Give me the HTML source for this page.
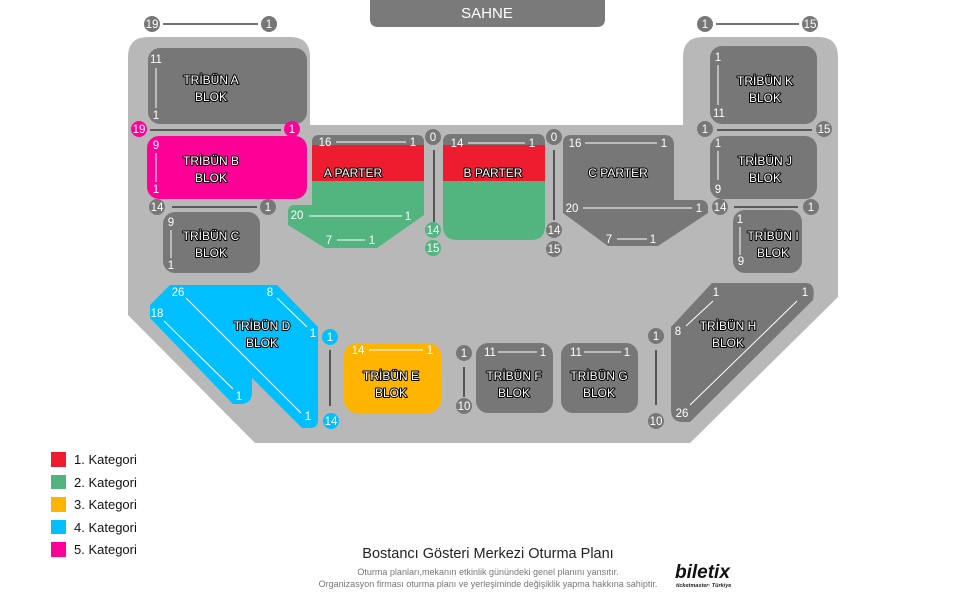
<!DOCTYPE html>
<html><head><meta charset="utf-8"><style>
html,body{margin:0;padding:0;background:#fff;}
svg{display:block;font-family:"Liberation Sans","DejaVu Sans",sans-serif;}
.lb{font-size:12px;fill:#fff;stroke:#000;stroke-width:2px;paint-order:stroke;stroke-linejoin:round;text-anchor:middle;}
.n{font-size:11.5px;fill:#fff;text-anchor:middle;}
.bd{fill:#777;}
.dl{stroke:#222;stroke-width:1.3;}
.wl{stroke:#fff;stroke-width:1;}
</style></head><body>
<svg width="975" height="600" viewBox="0 0 975 600">
<path d="M148,37 H290 Q310,37 310,57 V125 H683 V57 Q683,37 703,37 H818 Q838,37 838,57 V297 L690,443 H255 L128,315 V57 Q128,37 148,37 Z" fill="#b8b8b8"/>
<path d="M370,0 H605 V19 Q605,27 597,27 H378 Q370,27 370,19 Z" fill="#7a7a7a"/>
<text x="487" y="18" font-size="15" fill="#fff" text-anchor="middle">SAHNE</text>

<rect x="148" y="48" width="159" height="76" rx="12" fill="#777"/>
<rect x="147" y="136" width="160" height="63" rx="12" fill="#ff0096"/>
<rect x="163" y="212" width="97" height="61" rx="12" fill="#777"/>
<rect x="710" y="46" width="107" height="78" rx="12" fill="#777"/>
<rect x="710" y="136" width="107" height="63" rx="12" fill="#777"/>
<rect x="733" y="210" width="69" height="63" rx="12" fill="#777"/>
<rect x="344" y="343" width="97" height="70" rx="13" fill="#ffb400"/>
<rect x="476" y="343" width="77" height="70" rx="12" fill="#777"/>
<rect x="561" y="343" width="77" height="70" rx="12" fill="#777"/>

<path d="M312,145 V142 Q312,135 319,135 H417 Q424,135 424,142 V145 Z" fill="#777"/>
<rect x="312" y="145" width="112" height="36" fill="#ed1c2e"/>
<path d="M312,181 H424 V215 L377,248 H325 L288,225 V212 Q288,205 295,205 H312 Z" fill="#52b47e"/>
<path d="M443,145 V142 Q443,134 451,134 H537 Q545,134 545,142 V145 Z" fill="#777"/>
<rect x="443" y="145" width="102" height="36" fill="#ed1c2e"/>
<path d="M443,181 H545 V226 Q545,240 531,240 H457 Q443,240 443,226 Z" fill="#52b47e"/>
<path d="M571,135 H664 Q674,135 674,145 V200 H700 Q708,200 708,208 V213 L658,246 H608 L563,213 V143 Q563,135 571,135 Z" fill="#777"/>
<path d="M712,283 H806 Q816,283 813,300 L690,422 H683 Q671,422 671,410 V327 Z" fill="#777"/>
<path d="M170,285 H277 L318,327 V420 Q318,428 310,428 H302 L252,378 V392 Q252,404 240,404 H233 L150,318 V305 Z" fill="#00bfff"/>

<g>
<line class="dl" x1="163" y1="24" x2="258" y2="24"/>
<circle cx="152" cy="24" r="8" class="bd"/><text class="n" x="152" y="28">19</text>
<circle cx="269" cy="24" r="8" class="bd"/><text class="n" x="269" y="28">1</text>

<line class="dl" x1="150" y1="130" x2="281" y2="130"/>
<circle cx="139" cy="129" r="8" fill="#ff0096"/><text class="n" x="139" y="133">19</text>
<circle cx="292" cy="129" r="8" fill="#ff0096"/><text class="n" x="292" y="133">1</text>

<line class="dl" x1="172" y1="207" x2="257" y2="207"/>
<circle cx="157" cy="207" r="8" class="bd"/><text class="n" x="157" y="211">14</text>
<circle cx="268" cy="207" r="8" class="bd"/><text class="n" x="268" y="211">1</text>

<text class="n" x="156" y="63">11</text><line class="wl" x1="156" y1="68" x2="156" y2="108"/><text class="n" x="156" y="119">1</text>
<text class="n" x="156" y="149">9</text><line class="wl" x1="156" y1="153" x2="156" y2="182"/><text class="n" x="156" y="193">1</text>
<text class="n" x="171" y="226">9</text><line class="wl" x1="171" y1="230" x2="171" y2="258"/><text class="n" x="171" y="269">1</text>

<text class="n" x="325" y="146">16</text><line class="wl" x1="336" y1="142" x2="406" y2="142"/><text class="n" x="413" y="146">1</text>
<text class="n" x="297" y="219">20</text><line class="wl" x1="309" y1="216" x2="402" y2="216"/><text class="n" x="408" y="220">1</text>
<text class="n" x="329" y="244">7</text><line class="wl" x1="337" y1="240" x2="365" y2="240"/><text class="n" x="372" y="244">1</text>

<line class="dl" x1="434" y1="150" x2="434" y2="222"/>
<circle cx="433" cy="137" r="8" class="bd"/><text class="n" x="433" y="141">0</text>
<circle cx="433" cy="230" r="8" fill="#52b47e"/><text class="n" x="433" y="234">14</text>
<circle cx="433" cy="248" r="8" fill="#52b47e"/><text class="n" x="433" y="252">15</text>

<text class="n" x="457" y="147">14</text><line class="wl" x1="468" y1="143" x2="525" y2="143"/><text class="n" x="532" y="147">1</text>

<line class="dl" x1="554" y1="150" x2="554" y2="220"/>
<circle cx="554" cy="137" r="8" class="bd"/><text class="n" x="554" y="141">0</text>
<circle cx="554" cy="230" r="8" class="bd"/><text class="n" x="554" y="234">14</text>
<circle cx="554" cy="249" r="8" class="bd"/><text class="n" x="554" y="253">15</text>

<text class="n" x="575" y="147">16</text><line class="wl" x1="585" y1="143" x2="657" y2="143"/><text class="n" x="664" y="147">1</text>
<text class="n" x="572" y="212">20</text><line class="wl" x1="583" y1="208" x2="692" y2="208"/><text class="n" x="699" y="212">1</text>
<text class="n" x="609" y="243">7</text><line class="wl" x1="617" y1="239" x2="647" y2="239"/><text class="n" x="653" y="243">1</text>

<line class="dl" x1="716" y1="24" x2="799" y2="24"/>
<circle cx="705" cy="24" r="8" class="bd"/><text class="n" x="705" y="28">1</text>
<circle cx="810" cy="24" r="8" class="bd"/><text class="n" x="810" y="28">15</text>
<text class="n" x="718" y="61">1</text><line class="wl" x1="718" y1="65" x2="718" y2="105"/><text class="n" x="719" y="117">11</text>

<line class="dl" x1="717" y1="130" x2="812" y2="130"/>
<circle cx="705" cy="129" r="8" class="bd"/><text class="n" x="705" y="133">1</text>
<circle cx="824" cy="129" r="8" class="bd"/><text class="n" x="824" y="133">15</text>
<text class="n" x="718" y="147">1</text><line class="wl" x1="718" y1="151" x2="718" y2="180"/><text class="n" x="718" y="193">9</text>

<line class="dl" x1="734" y1="207" x2="798" y2="207"/>
<circle cx="720" cy="207" r="8" class="bd"/><text class="n" x="720" y="211">14</text>
<circle cx="811" cy="207" r="8" class="bd"/><text class="n" x="811" y="211">1</text>
<text class="n" x="740" y="223">1</text><line class="wl" x1="740" y1="227" x2="740" y2="255"/><text class="n" x="741" y="265">9</text>

<text class="n" x="716" y="296">1</text><line class="wl" x1="713" y1="301" x2="686" y2="326"/><text class="n" x="678" y="335">8</text>
<text class="n" x="805" y="296">1</text><line class="wl" x1="797" y1="301" x2="690" y2="405"/><text class="n" x="682" y="417">26</text>

<line class="dl" x1="656" y1="350" x2="656" y2="405"/>
<circle cx="656" cy="336" r="8" class="bd"/><text class="n" x="656" y="340">1</text>
<circle cx="656" cy="421" r="8" class="bd"/><text class="n" x="656" y="425">10</text>

<text class="n" x="576" y="356">11</text><line class="wl" x1="584" y1="352" x2="621" y2="352"/><text class="n" x="627" y="356">1</text>
<text class="n" x="490" y="356">11</text><line class="wl" x1="498" y1="352" x2="537" y2="352"/><text class="n" x="543" y="356">1</text>

<line class="dl" x1="464" y1="367" x2="464" y2="397"/>
<circle cx="464" cy="353" r="8" class="bd"/><text class="n" x="464" y="357">1</text>
<circle cx="464" cy="406" r="8" class="bd"/><text class="n" x="464" y="410">10</text>

<text class="n" x="358" y="354">14</text><line class="wl" x1="369" y1="350" x2="423" y2="350"/><text class="n" x="430" y="354">1</text>

<line class="dl" x1="330" y1="350" x2="330" y2="406"/>
<circle cx="330" cy="337" r="8" fill="#00bfff"/><text class="n" x="330" y="341">1</text>
<circle cx="331" cy="421" r="8" fill="#00bfff"/><text class="n" x="331" y="425">14</text>

<text class="n" x="178" y="296">26</text><line class="wl" x1="186" y1="298" x2="301" y2="413"/><text class="n" x="308" y="420">1</text>
<text class="n" x="270" y="296">8</text><line class="wl" x1="277" y1="298" x2="307" y2="327"/><text class="n" x="313" y="337">1</text>
<text class="n" x="157" y="317">18</text><line class="wl" x1="164" y1="321" x2="233" y2="389"/><text class="n" x="239" y="400">1</text>
</g>

<g class="lb">
<text x="211" y="84">TRİBÜN A</text><text x="211" y="101">BLOK</text>
<text x="211" y="165">TRİBÜN B</text><text x="211" y="182">BLOK</text>
<text x="211" y="240">TRİBÜN C</text><text x="211" y="257">BLOK</text>
<text x="353" y="177">A PARTER</text>
<text x="493" y="177">B PARTER</text>
<text x="618" y="177">C PARTER</text>
<text x="765" y="85">TRİBÜN K</text><text x="765" y="102">BLOK</text>
<text x="765" y="165">TRİBÜN J</text><text x="765" y="182">BLOK</text>
<text x="773" y="240">TRİBÜN I</text><text x="773" y="257">BLOK</text>
<text x="728" y="330">TRİBÜN H</text><text x="728" y="347">BLOK</text>
<text x="262" y="330">TRİBÜN D</text><text x="262" y="347">BLOK</text>
<text x="391" y="380">TRİBÜN E</text><text x="391" y="397">BLOK</text>
<text x="514" y="380">TRİBÜN F</text><text x="514" y="397">BLOK</text>
<text x="599" y="380">TRİBÜN G</text><text x="599" y="397">BLOK</text>
</g>

<g font-size="13" fill="#111">
<rect x="51" y="452" width="15" height="15" fill="#ed1c2e"/><text x="74" y="464">1. Kategori</text>
<rect x="51" y="475" width="15" height="14" fill="#52b47e"/><text x="74" y="487">2. Kategori</text>
<rect x="51" y="497" width="15" height="15" fill="#ffb400"/><text x="74" y="509">3. Kategori</text>
<rect x="51" y="520" width="15" height="14" fill="#00bfff"/><text x="74" y="532">4. Kategori</text>
<rect x="51" y="542" width="15" height="15" fill="#ff0096"/><text x="74" y="554">5. Kategori</text>
</g>

<text x="488" y="558" font-size="14.5" fill="#222" text-anchor="middle">Bostancı Gösteri Merkezi Oturma Planı</text>
<text x="488" y="575" font-size="9" fill="#777" text-anchor="middle">Oturma planları,mekanın etkinlik günündeki genel planını yansıtır.</text>
<text x="488" y="587" font-size="9" fill="#777" text-anchor="middle">Organizasyon firması oturma planı ve yerleşiminde değişiklik yapma hakkına sahiptir.</text>
<text x="675" y="578" font-size="19" font-weight="bold" font-style="italic" fill="#111">biletix</text>
<text x="676" y="587" font-size="5.5" font-weight="bold" font-style="italic" fill="#222">ticketmaster· Türkiye</text>
</svg>
</body></html>
